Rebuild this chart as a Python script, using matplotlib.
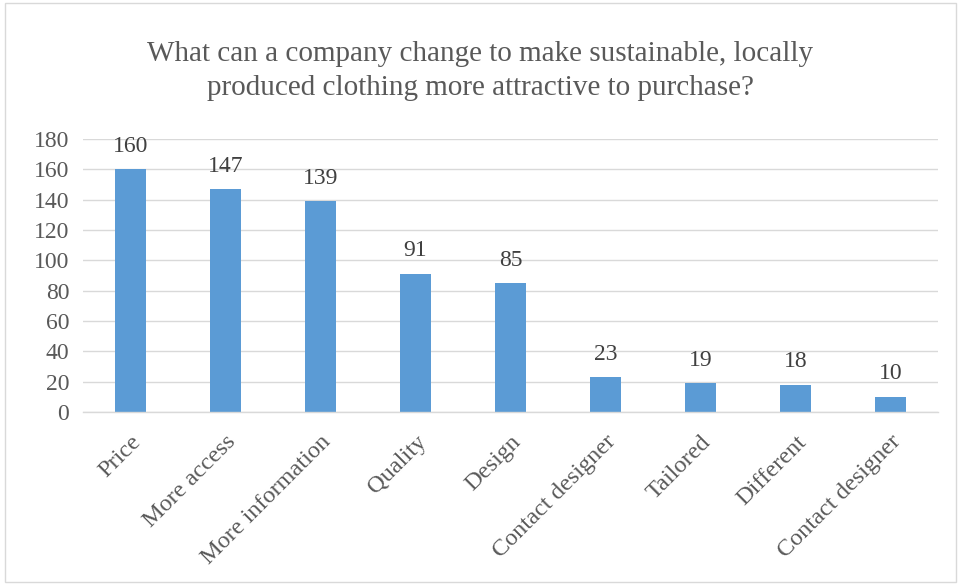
import matplotlib
matplotlib.use("Agg")
import matplotlib.pyplot as plt
from matplotlib.patches import Rectangle

categories = ["Price", "More access", "More information", "Quality", "Design",
              "Contact designer", "Tailored", "Different", "Contact designer"]
values = [160, 147, 139, 91, 85, 23, 19, 18, 10]
yticks = [0, 20, 40, 60, 80, 100, 120, 140, 160, 180]
title = "What can a company change to make sustainable, locally\nproduced clothing more attractive to purchase?"

plt.rcParams['font.family'] = ['Liberation Serif', 'DejaVu Serif']
txt = '#595959'

fig = plt.figure(figsize=(9.61, 5.85), dpi=100)
ax = fig.add_axes([0.0864, 0.2957, 0.8896, 0.4667])
x = list(range(len(categories)))
ax.bar(x, values, width=0.32, color='#5B9BD5', zorder=3)
for xi, v in zip(x, values):
    ax.annotate(str(v), (xi, v), xytext=(0, 9), textcoords='offset points',
                ha='center', va='bottom', fontsize=17, color='#404040')
ax.set_xlim(-0.5, len(categories) - 0.5)
ax.set_ylim(0, 180)
ax.set_yticks(yticks)
ax.set_yticklabels([str(t) for t in yticks], fontsize=17, color=txt)
ax.set_xticks(x)
ax.set_xticklabels(categories, rotation=45, ha='right', rotation_mode='anchor',
                   fontsize=17.5, color=txt)
ax.tick_params(axis='both', length=0)
ax.tick_params(axis='y', pad=10)
ax.tick_params(axis='x', pad=14)
ax.grid(axis='y', color='#D9D9D9', linewidth=1, zorder=0)
for s in ['top', 'right', 'left']:
    ax.spines[s].set_visible(False)
ax.spines['bottom'].set_color('#D9D9D9')
ax.spines['bottom'].set_linewidth(1)
ax.spines['bottom'].set_zorder(4)

fig.text(0.5, 0.93, title, ha='center', va='top', fontsize=21, color=txt, linespacing=1.38)
fig.patches.append(Rectangle((0.005, 0.005), 0.99, 0.99, transform=fig.transFigure,
                             fill=False, edgecolor='#D9D9D9', linewidth=1))
fig.savefig('out.png', dpi=100)
